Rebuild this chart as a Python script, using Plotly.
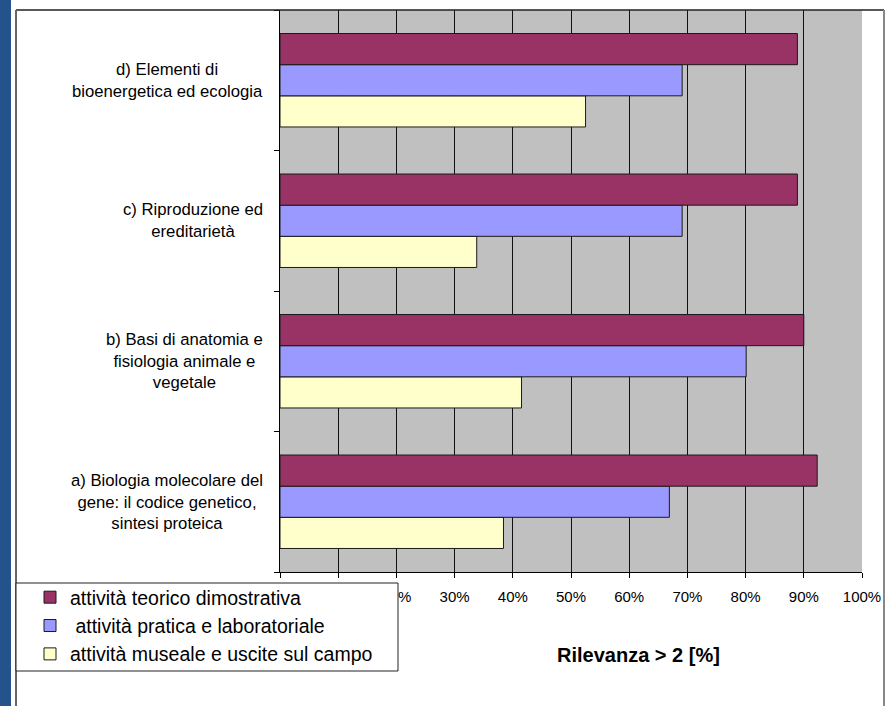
import plotly.graph_objects as go

# ---- data -------------------------------------------------------------
categories = ["a", "b", "c", "d"]
category_labels = [
    "a) Biologia molecolare del<br>gene: il codice genetico,<br>sintesi proteica",
    "b) Basi di anatomia e<br>fisiologia animale e<br>vegetale",
    "c) Riproduzione ed<br>ereditarietà",
    "d) Elementi di<br>bioenergetica ed ecologia",
]
series_names = [
    "attività museale e uscite sul campo",
    "\u00a0attività pratica e laboratoriale",
    "attività teorico dimostrativa",
]
museale = [38.4, 41.5, 33.8, 52.5]
pratica = [66.9, 80.1, 69.1, 69.1]
teorico = [92.3, 90.0, 88.9, 88.9]
series_values = [museale, pratica, teorico]
series_colors = ["#FFFFCC", "#9999FF", "#993366"]
legend_ranks = [3, 2, 1]
x_ticks = [0, 10, 20, 30, 40, 50, 60, 70, 80, 90, 100]
x_ticktext = [f"{v}%" for v in x_ticks]
x_title = "Rilevanza > 2 [%]"

# ---- geometry helpers (pixel -> paper) --------------------------------
W, H = 894, 706
L, R, T, B = 280, 862, 10, 572


def px(x):
    return (x - L) / (R - L)


def py(y):
    return (B - y) / (B - T)


FONT = "Arial, 'Liberation Sans', sans-serif"

fig = go.Figure()
for name, vals, col, rank in zip(series_names, series_values, series_colors, legend_ranks):
    fig.add_trace(go.Bar(
        y=categories, x=vals, name=name, orientation="h",
        marker=dict(color=col, line=dict(color="#1a1a1a", width=1)),
        legendrank=rank,
    ))

shapes = [
    # blue backdrop strip on the left
    dict(type="rect", xref="paper", yref="paper", x0=px(-5), x1=px(11),
         y0=py(-5), y1=py(712), fillcolor="#24528a", line=dict(width=0),
         layer="below"),
    # outer chart frame
    dict(type="line", xref="paper", yref="paper", x0=px(16), x1=px(884),
         y0=py(10), y1=py(10), line=dict(color="#222222", width=1.5), layer="above"),
    dict(type="line", xref="paper", yref="paper", x0=px(16), x1=px(16),
         y0=py(10), y1=py(712), line=dict(color="#666666", width=2), layer="above"),
    dict(type="line", xref="paper", yref="paper", x0=px(884), x1=px(884),
         y0=py(10), y1=py(712), line=dict(color="#888888", width=2), layer="above"),
    # legend box
    dict(type="rect", xref="paper", yref="paper", x0=px(16), x1=px(398),
         y0=py(671), y1=py(583), fillcolor="white",
         line=dict(color="#222222", width=1), layer="above"),
]

annotations = []
for cat, lab in zip(categories, category_labels):
    annotations.append(dict(
        xref="paper", yref="y", x=px(265), y=cat, text=lab, showarrow=False,
        xanchor="right", yanchor="middle", align="center",
        font=dict(family=FONT, size=16.7, color="black"),
    ))
annotations.append(dict(
    xref="paper", yref="paper", x=px(638), y=py(655), text="<b>" + x_title + "</b>",
    showarrow=False, xanchor="center", yanchor="middle",
    font=dict(family=FONT, size=20, color="black"),
))

fig.update_layout(
    width=W, height=H,
    margin=dict(l=L, r=W - R, t=T, b=H - B, pad=0),
    paper_bgcolor="white", plot_bgcolor="#C0C0C0",
    barmode="group", bargap=0.335, bargroupgap=0,
    font=dict(family=FONT, color="black"),
    shapes=shapes, annotations=annotations,
    showlegend=True,
    legend=dict(
        x=px(30), y=py(578), xanchor="left", yanchor="top",
        bgcolor="rgba(0,0,0,0)", borderwidth=0,
        traceorder="normal",
        font=dict(family=FONT, size=19.5, color="black"),
    ),
)
fig.update_xaxes(
    range=[0, 100], tickvals=x_ticks, ticktext=x_ticktext,
    showgrid=True, gridcolor="#111111", gridwidth=1,
    showline=True, linecolor="black", linewidth=1,
    ticks="outside", ticklen=5, tickcolor="black",
    ticklabelstandoff=6,
    tickfont=dict(family=FONT, size=15, color="black"),
    zeroline=False, fixedrange=True,
)
fig.update_yaxes(
    categoryorder="array", categoryarray=categories,
    showticklabels=False, tickson="boundaries",
    ticks="outside", ticklen=5, tickcolor="black",
    showgrid=False, showline=True, linecolor="black", linewidth=1,
    zeroline=False, fixedrange=True,
)

fig.write_html(
    "out.html",
    config={"displayModeBar": False},
    post_script="document.body.style.margin='0';document.body.style.overflow='hidden';",
)
